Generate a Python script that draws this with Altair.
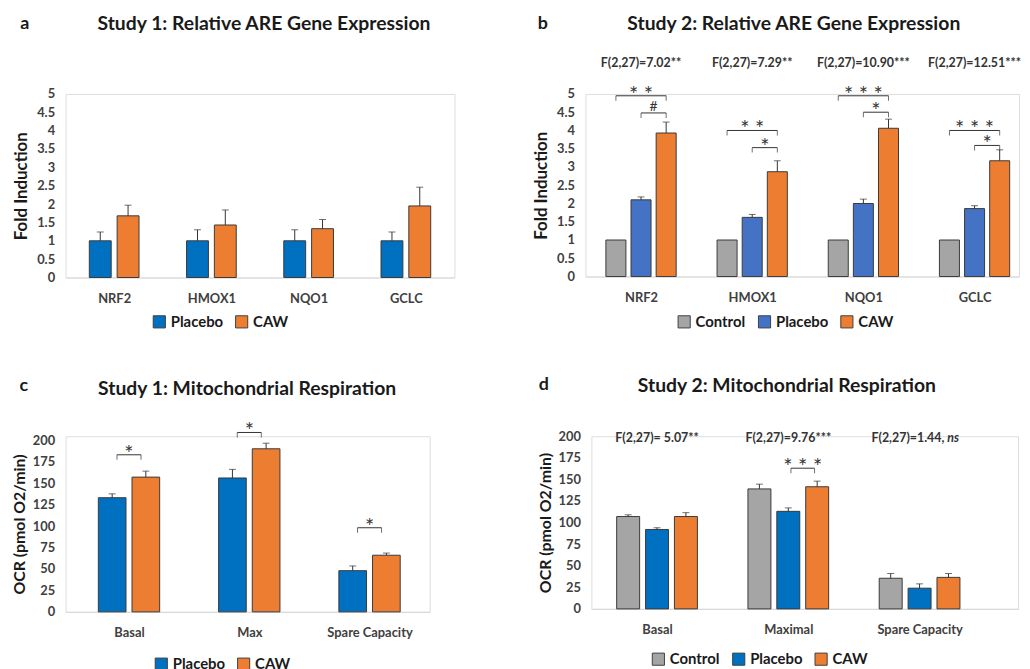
import altair as alt
import pandas as pd

FONT = "Lato"
TXT = "#1a1a1a"
AX = "#404040"

# ---------------- data ----------------
# panel a  (Study 1, ARE genes)
a_cats = ["NRF2", "HMOX1", "NQO1", "GCLC"]
a_groups = ["Placebo", "CAW"]
a_placebo = [1.0, 1.0, 1.0, 1.0]
a_placebo_err = [0.24, 0.30, 0.30, 0.24]
a_caw = [1.68, 1.43, 1.33, 1.95]
a_caw_err = [0.29, 0.41, 0.25, 0.51]

# panel b  (Study 2, ARE genes)
b_cats = ["NRF2", "HMOX1", "NQO1", "GCLC"]
b_groups = ["Control", "Placebo", "CAW"]
b_control = [1.0, 1.0, 1.0, 1.0]
b_control_err = [0.0, 0.0, 0.0, 0.0]
b_placebo = [2.10, 1.62, 2.00, 1.86]
b_placebo_err = [0.08, 0.08, 0.12, 0.08]
b_caw = [3.93, 2.87, 4.06, 3.17]
b_caw_err = [0.30, 0.30, 0.25, 0.30]
b_fstats = ["F(2,27)=7.02**", "F(2,27)=7.29**", "F(2,27)=10.90***", "F(2,27)=12.51***"]
b_fstat_y = 5.85
b_br_cat = ["NRF2", "NRF2", "HMOX1", "HMOX1", "NQO1", "NQO1", "GCLC", "GCLC"]
b_br_from = ["Control", "Placebo", "Control", "Placebo", "Control", "Placebo", "Control", "Placebo"]
b_br_to = ["CAW", "CAW", "CAW", "CAW", "CAW", "CAW", "CAW", "CAW"]
b_br_y = [4.95, 4.48, 4.00, 3.53, 4.95, 4.50, 4.00, 3.59]
b_br_lab = ["* *", "#", "* *", "*", "* * *", "*", "* * *", "*"]

# panel c  (Study 1, respiration)
c_cats = ["Basal", "Max", "Spare Capacity"]
c_groups = ["Placebo", "CAW"]
c_placebo = [133, 156, 48]
c_placebo_err = [4.5, 10, 5.5]
c_caw = [157, 190, 66]
c_caw_err = [7, 6.5, 2.5]
c_br_cat = ["Basal", "Max", "Spare Capacity"]
c_br_from = ["Placebo", "Placebo", "Placebo"]
c_br_to = ["CAW", "CAW", "CAW"]
c_br_y = [183, 209, 98]
c_br_lab = ["*", "*", "*"]

# panel d  (Study 2, respiration)
d_cats = ["Basal", "Maximal", "Spare Capacity"]
d_groups = ["Control", "Placebo", "CAW"]
d_control = [107, 139, 35.5]
d_control_err = [2, 5.5, 5.5]
d_placebo = [92, 113, 24]
d_placebo_err = [2, 4, 5]
d_caw = [107, 141.5, 36.5]
d_caw_err = [4.5, 6.5, 4.5]
d_fstats = ["F(2,27)= 5.07**", "F(2,27)=9.76***", "F(2,27)=1.44, ns"]
d_fstat_y = 197.5
d_br_cat = ["Maximal"]
d_br_from = ["Placebo"]
d_br_to = ["CAW"]
d_br_y = [163]
d_br_lab = ["* * *"]


def panel(cats, groups, vals, errs, colors, off, bw, xmin, xmax, W, H, ymax, yticks,
          ytitle, ytsize, title, tpos, letter, lpos, legpos, titlepad,
          brackets=None, inset=0.0, fstats=None, fy=None):
    n = len(cats)
    rows = []
    for gi, g in enumerate(groups):
        for ci, c in enumerate(cats):
            pos = ci + 0.5 + off[gi]
            rows.append(dict(cat=c, g=g, pos=pos, x0=pos - bw / 2, x1=pos + bw / 2,
                             v=vals[gi][ci], z=0.0, e=errs[gi][ci],
                             top=vals[gi][ci] + errs[gi][ci]))
    df = pd.DataFrame(rows)
    centers = {(r["cat"], r["g"]): r["pos"] for r in rows}

    label_js = "[" + ",".join("'%s'" % c for c in cats) + "][floor(datum.value)]"
    xscale = alt.Scale(domain=[xmin, xmax], nice=False, zero=False)
    yscale = alt.Scale(domain=[0, ymax], nice=False, zero=True)

    bars = alt.Chart(df).mark_rect(stroke="#3a3a3a", strokeWidth=1).encode(
        x=alt.X("x0:Q", scale=xscale,
                axis=alt.Axis(values=[i + 0.5 for i in range(n)], labelExpr=label_js,
                              tickCount=50,
                              grid=False, ticks=False, domainColor="#d9d9d9",
                              domainWidth=1.2, title=None, labelFont=FONT,
                              labelFontSize=13, labelFontWeight="bold",
                              labelColor=AX, labelPadding=15)),
        x2="x1:Q",
        y=alt.Y("v:Q", scale=yscale,
                axis=alt.Axis(values=yticks, format=".1~f", tickCount=50,
                              grid=False, ticks=False, labelOverlap=False,
                              domain=False, title=ytitle, titleFont=FONT,
                              titleFontSize=ytsize, titleFontWeight="bold",
                              titleColor=TXT, titlePadding=titlepad,
                              labelFont=FONT, labelFontSize=13,
                              labelFontWeight="bold", labelColor=AX,
                              labelPadding=11)),
        y2="z:Q",
        color=alt.Color("g:N", scale=alt.Scale(domain=groups, range=colors),
                        legend=alt.Legend(orient="none", legendX=legpos[0],
                                          legendY=legpos[1], direction="horizontal",
                                          title=None, symbolType="square",
                                          symbolSize=150, symbolStrokeColor="#404040",
                                          symbolStrokeWidth=1, labelFont=FONT,
                                          labelFontSize=15, labelFontWeight="bold",
                                          labelColor=TXT, columnPadding=10,
                                          labelOffset=4)),
    )
    edf = df[df["e"] > 0]
    err = alt.Chart(edf).mark_rule(color="#333333", strokeWidth=1).encode(
        x="pos:Q", y="v:Q", y2="top:Q")
    cap = alt.Chart(edf).mark_tick(orient="horizontal", size=7, thickness=1,
                                   color="#333333").encode(x="pos:Q", y="top:Q")
    layers = [bars, err, cap]

    if brackets is not None:
        bcat, bfrom, bto, by, blab = brackets
        brows, ends = [], []
        for c, f, t, y, lab in zip(bcat, bfrom, bto, by, blab):
            xs = centers[(c, f)] + inset
            xe = centers[(c, t)] - inset
            brows.append(dict(xs=xs, xe=xe, mid=(xs + xe) / 2, y=y, lab=lab))
            ends.append(dict(x=xs, y=y))
            ends.append(dict(x=xe, y=y))
        bdf = pd.DataFrame(brows)
        layers.append(alt.Chart(bdf).mark_rule(color="#333333", strokeWidth=1).encode(
            x="xs:Q", x2="xe:Q", y="y:Q"))
        layers.append(alt.Chart(pd.DataFrame(ends)).mark_tick(
            orient="vertical", size=5, thickness=1, yOffset=2.5,
            color="#333333").encode(x="x:Q", y="y:Q"))
        layers.append(alt.Chart(bdf).transform_filter("datum.lab != '#'").mark_text(
            font=FONT, fontSize=22, color="#333333", baseline="alphabetic", dy=6).encode(
            x="mid:Q", y="y:Q", text="lab:N"))
        layers.append(alt.Chart(bdf).transform_filter("datum.lab == '#'").mark_text(
            font=FONT, fontSize=14, color="#333333", baseline="alphabetic", dy=-2).encode(
            x="mid:Q", y="y:Q", text="lab:N"))

    if fstats is not None:
        frows = []
        for ci, (c, s) in enumerate(zip(cats, fstats)):
            if s.endswith(", ns"):
                frows.append(dict(pos=ci + 0.5, y=fy, t=s[:-3], kind="ns_main"))
                frows.append(dict(pos=ci + 0.5, y=fy, t="ns", kind="ns"))
            else:
                frows.append(dict(pos=ci + 0.5, y=fy, t=s, kind="main"))
        fdf = pd.DataFrame(frows)
        base = alt.Chart(fdf)
        layers.append(base.transform_filter("datum.kind == 'main'").mark_text(
            font=FONT, fontSize=12.5, fontWeight="bold", color="#333333",
            baseline="middle").encode(x="pos:Q", y="y:Q", text="t:N"))
        layers.append(base.transform_filter("datum.kind == 'ns_main'").mark_text(
            font=FONT, fontSize=12.5, fontWeight="bold", color="#333333", align="right",
            dx=25, baseline="middle").encode(x="pos:Q", y="y:Q", text="t:N"))
        layers.append(base.transform_filter("datum.kind == 'ns'").mark_text(
            font=FONT, fontSize=12.5, fontWeight="bold", fontStyle="italic",
            color="#333333", align="left", dx=28, baseline="middle").encode(
            x="pos:Q", y="y:Q", text="t:N"))

    layers.append(alt.Chart(pd.DataFrame({"t": [title]})).mark_text(
        font=FONT, fontSize=19.5, fontWeight="bold", color=TXT, align="center",
        baseline="middle").encode(x=alt.value(tpos[0]), y=alt.value(tpos[1]), text="t:N"))
    layers.append(alt.Chart(pd.DataFrame({"t": [letter]})).mark_text(
        font=FONT, fontSize=18, fontWeight="bold", color=TXT, align="center",
        baseline="middle").encode(x=alt.value(lpos[0]), y=alt.value(lpos[1]), text="t:N"))

    return alt.layer(*layers).properties(width=W, height=H)


BLUE = "#0070C0"
BLUE_B = "#4472C4"
ORANGE = "#ED7D31"
GRAY = "#A5A5A5"
FI = [0, 0.5, 1, 1.5, 2, 2.5, 3, 3.5, 4, 4.5, 5]
OCR = [0, 25, 50, 75, 100, 125, 150, 175, 200]

pa = panel(a_cats, a_groups, [a_placebo, a_caw], [a_placebo_err, a_caw_err],
           [BLUE, ORANGE], [-0.143, 0.143], 0.225, 0, 4, 392, 185, 5,
           FI, "Fold Induction", 17,
           "Study 1: Relative ARE Gene Expression", (200, -70), "a", (-41, -70),
           (87, 222), 6)

pb = panel(b_cats, b_groups, [b_control, b_placebo, b_caw],
           [b_control_err, b_placebo_err, b_caw_err],
           [GRAY, BLUE_B, ORANGE], [-0.226, 0.0, 0.226], 0.18, 0, 3.9, 437, 184, 5,
           FI, "Fold Induction", 17,
           "Study 2: Relative ARE Gene Expression", (210, -70), "b", (-43, -70),
           (92, 222), 6,
           brackets=(b_br_cat, b_br_from, b_br_to, b_br_y, b_br_lab), inset=0.0,
           fstats=b_fstats, fy=b_fstat_y)

pc = panel(c_cats, c_groups, [c_placebo, c_caw], [c_placebo_err, c_caw_err],
           [BLUE, ORANGE], [-0.14, 0.14], 0.23, -0.0276, 3, 367, 177, 204.6,
           OCR, "OCR (pmol O2/min)", 16,
           "Study 1: Mitochondrial Respiration", (183, -48), "c", (-42, -51),
           (89, 222), 5,
           brackets=(c_br_cat, c_br_from, c_br_to, c_br_y, c_br_lab), inset=0.04)

pd_ = panel(d_cats, d_groups, [d_control, d_placebo, d_caw],
            [d_control_err, d_placebo_err, d_caw_err],
            [GRAY, BLUE, ORANGE], [-0.22, 0.0, 0.22], 0.175, 0, 3.25, 430, 174, 200,
            OCR, "OCR (pmol O2/min)", 16,
            "Study 2: Mitochondrial Respiration", (197, -51), "d", (-48, -52),
            (60, 217), 5,
            brackets=(d_br_cat, d_br_from, d_br_to, d_br_y, d_br_lab), inset=0.02,
            fstats=d_fstats, fy=d_fstat_y)

row1 = alt.hconcat(pa, pb, spacing=77).resolve_scale(color="independent", x="independent", y="independent")
row2 = alt.hconcat(pc, pd_, spacing=106).resolve_scale(color="independent", x="independent", y="independent")

chart = alt.vconcat(row1, row2, spacing=44).resolve_scale(
    color="independent", x="independent", y="independent"
).properties(
    padding={"left": 2, "top": 3, "right": 0, "bottom": 0}
).configure_view(stroke=None).configure_axis(labelOverlap=False).configure(background="white")

chart.save("out.html", embed_options={"renderer": "svg", "actions": False})
